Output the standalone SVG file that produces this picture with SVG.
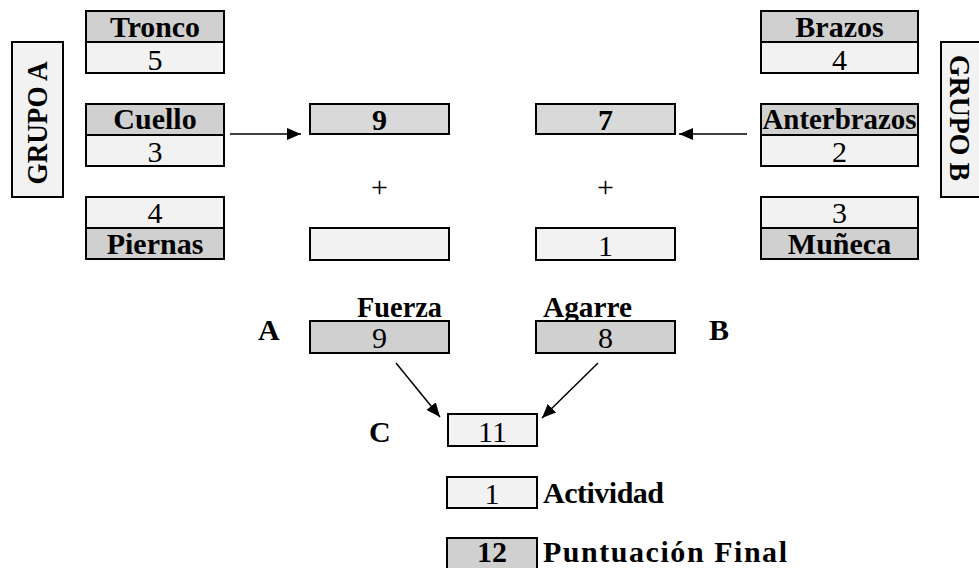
<svg xmlns="http://www.w3.org/2000/svg" width="979" height="568" viewBox="0 0 979 568">
<style>
.hd{fill:#d0d0d0;stroke:#000;stroke-width:2}
.lt{fill:#f2f2f2;stroke:#000;stroke-width:2}
.md{fill:#d9d9d9;stroke:#000;stroke-width:2}
.b{font-family:"Liberation Serif","Times New Roman",serif;font-weight:bold;font-size:30px;fill:#000}
.r{font-family:"Liberation Serif","Times New Roman",serif;font-size:30px;fill:#000}
.c{text-anchor:middle}
.ln{stroke:#000;stroke-width:1.5;fill:none}
</style>
<defs>
<marker id="ah" viewBox="0 0 14 12" refX="14" refY="6" markerWidth="14" markerHeight="12" markerUnits="userSpaceOnUse" orient="auto">
<path d="M0,0 L14,6 L0,12 Z" fill="#000"/>
</marker>
</defs>
<rect width="979" height="568" fill="#fff"/>

<g id="grupoA">
<rect class="lt" x="12" y="42" width="51" height="155"/>
<text class="b c" transform="translate(47,123) rotate(-90)" textLength="123" lengthAdjust="spacingAndGlyphs">GRUPO A</text>
</g>
<g id="tronco">
<rect class="hd" x="86" y="11" width="138" height="31"/>
<rect class="lt" x="86" y="42" width="138" height="31"/>
<text class="b c" x="155" y="37" textLength="90" lengthAdjust="spacingAndGlyphs">Tronco</text>
<text class="r c" x="155" y="70">5</text>
</g>
<g id="cuello">
<rect class="hd" x="86" y="104" width="138" height="31"/>
<rect class="lt" x="86" y="135" width="138" height="31"/>
<text class="b c" x="155" y="129">Cuello</text>
<text class="r c" x="155" y="162">3</text>
</g>
<g id="piernas">
<rect class="lt" x="86" y="197" width="138" height="31"/>
<rect class="hd" x="86" y="228" width="138" height="31"/>
<text class="r c" x="155" y="223">4</text>
<text class="b c" x="155" y="254">Piernas</text>
</g>

<g id="sumA">
<rect class="md" x="310" y="104" width="139" height="30"/>
<text class="b c" x="379.5" y="130">9</text>
<text class="r c" x="379.5" y="197">+</text>
<rect class="lt" x="310" y="228" width="139" height="32"/>
</g>
<g id="sumB">
<rect class="md" x="536" y="104" width="139" height="30"/>
<text class="b c" x="605.5" y="130">7</text>
<text class="r c" x="605.5" y="197">+</text>
<rect class="lt" x="536" y="228" width="139" height="32"/>
<text class="r c" x="605.5" y="256">1</text>
</g>

<g id="brazos">
<rect class="hd" x="761" y="11" width="157" height="31"/>
<rect class="lt" x="761" y="42" width="157" height="31"/>
<text class="b c" x="839.5" y="37">Brazos</text>
<text class="r c" x="839.5" y="70">4</text>
</g>
<g id="anterbrazos">
<rect class="hd" x="761" y="104" width="157" height="31"/>
<rect class="lt" x="761" y="135" width="157" height="31"/>
<text class="b c" x="839.5" y="129" textLength="154" lengthAdjust="spacingAndGlyphs">Anterbrazos</text>
<text class="r c" x="839.5" y="162">2</text>
</g>
<g id="muneca">
<rect class="lt" x="761" y="197" width="157" height="31"/>
<rect class="hd" x="761" y="228" width="157" height="31"/>
<text class="r c" x="839.5" y="223">3</text>
<text class="b c" x="839.5" y="254">Muñeca</text>
</g>
<g id="grupoB">
<rect class="lt" x="941" y="42" width="45" height="155"/>
<text class="b c" transform="translate(950,118) rotate(90)" textLength="126" lengthAdjust="spacingAndGlyphs">GRUPO B</text>
</g>

<g id="fuerza">
<text class="b" x="357" y="317" textLength="85" lengthAdjust="spacingAndGlyphs">Fuerza</text>
<text class="b" x="258" y="340">A</text>
<rect class="hd" x="310" y="321" width="139" height="32"/>
<text class="r c" x="379.5" y="348">9</text>
</g>
<g id="agarre">
<text class="b" x="543" y="317" textLength="89" lengthAdjust="spacingAndGlyphs">Agarre</text>
<rect class="hd" x="536" y="321" width="139" height="32"/>
<text class="r c" x="605.5" y="348">8</text>
<text class="b" x="709" y="340">B</text>
</g>
<g id="c">
<text class="b" x="369" y="442">C</text>
<rect class="lt" x="448" y="414" width="89" height="32"/>
<text class="r c" x="492.5" y="442">11</text>
</g>
<g id="actividad">
<rect class="lt" x="447" y="477" width="90" height="31"/>
<text class="r c" x="492" y="504">1</text>
<text class="b" x="543" y="503" textLength="121" lengthAdjust="spacing">Actividad</text>
</g>
<g id="final">
<rect class="hd" x="447" y="538" width="90" height="32"/>
<text class="b c" x="492" y="562">12</text>
<text class="b" x="543" y="562" textLength="244" lengthAdjust="spacing">Puntuación Final</text>
</g>

<g id="connectors">
<line class="ln" x1="230" y1="134" x2="301" y2="134" marker-end="url(#ah)"/>
<line class="ln" x1="747" y1="134" x2="679" y2="134" marker-end="url(#ah)"/>
<line class="ln" x1="396" y1="363" x2="440" y2="417" marker-end="url(#ah)"/>
<line class="ln" x1="598" y1="363" x2="542" y2="418" marker-end="url(#ah)"/>
</g>
</svg>
